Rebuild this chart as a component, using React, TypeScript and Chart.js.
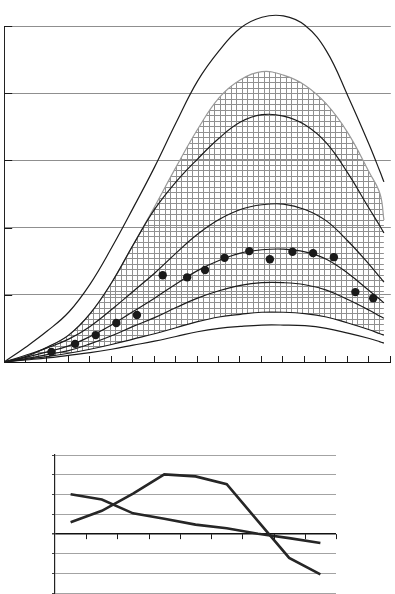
import React, { useEffect, useRef } from "react";
import { Chart, registerables } from "chart.js";

Chart.register(...registerables);

// ---------- top chart data ----------
const growthX = [0, 1, 2, 3, 4, 5, 6, 7, 8, 9, 10, 11, 12, 13, 14, 15, 16, 17, 17.5, 17.68];
const curveTop = [0, 0.22, 0.46, 0.74, 1.16, 1.7, 2.29, 2.9, 3.56, 4.18, 4.63, 4.97, 5.13, 5.15, 5.01, 4.63, 3.96, 3.23, 2.83, 2.68];
const bandUpper = [0, 0.08, 0.22, 0.4, 0.72, 1.18, 1.74, 2.31, 2.9, 3.46, 3.93, 4.2, 4.32, 4.27, 4.12, 3.84, 3.41, 2.82, 2.5, 2.11];
const curve2 = [0, 0.08, 0.22, 0.4, 0.72, 1.18, 1.74, 2.27, 2.68, 3.02, 3.33, 3.57, 3.68, 3.66, 3.53, 3.26, 2.81, 2.28, 2.02, 1.92];
const curve3 = [0, 0.1, 0.21, 0.34, 0.53, 0.78, 1.05, 1.32, 1.62, 1.9, 2.12, 2.27, 2.34, 2.35, 2.27, 2.1, 1.8, 1.45, 1.26, 1.19];
const curve4 = [0, 0.07, 0.15, 0.24, 0.38, 0.55, 0.75, 0.95, 1.16, 1.36, 1.51, 1.62, 1.67, 1.68, 1.64, 1.53, 1.32, 1.06, 0.93, 0.88];
const curve5 = [0, 0.05, 0.11, 0.17, 0.27, 0.39, 0.53, 0.66, 0.81, 0.95, 1.06, 1.14, 1.18, 1.18, 1.15, 1.07, 0.93, 0.77, 0.68, 0.65];
const curve6 = [0, 0.04, 0.08, 0.13, 0.19, 0.26, 0.34, 0.42, 0.51, 0.6, 0.67, 0.71, 0.74, 0.74, 0.72, 0.67, 0.58, 0.48, 0.42, 0.4];
const curve7 = [0, 0.03, 0.06, 0.1, 0.14, 0.19, 0.25, 0.31, 0.38, 0.45, 0.5, 0.53, 0.55, 0.55, 0.54, 0.5, 0.43, 0.35, 0.3, 0.28];
const dotsX = [2.2, 3.3, 4.26, 5.22, 6.18, 7.38, 8.52, 9.35, 10.26, 11.41, 12.37, 13.42, 14.38, 15.35, 16.35, 17.18];
const dotsY = [0.15, 0.27, 0.4, 0.58, 0.7, 1.29, 1.26, 1.37, 1.55, 1.65, 1.53, 1.64, 1.62, 1.56, 1.04, 0.95];
const topXTicks = [1, 2, 3, 4, 5, 6, 7, 8, 9, 10, 11, 12, 13, 14, 15, 16, 17, 18];
const topYTicks = [1, 2, 3, 4, 5];

// ---------- bottom chart data ----------
const bottomX = [0.5, 1.5, 2.5, 3.5, 4.5, 5.5, 6.5, 7.5, 8.5];
const seriesA = [0.6, 1.18, 2.05, 3.02, 2.92, 2.52, 0.66, -1.2, -2.03];
const seriesB = [2.02, 1.75, 1.05, 0.78, 0.48, 0.3, 0.02, -0.2, -0.45];
const bottomXTicks = [1, 2, 3, 4, 5, 6, 7, 8, 9];

const pts = (xs: number[], ys: number[]) => ys.map((y, i) => ({ x: xs[i], y }));

const topTicksPlugin = {
  id: "topTicks",
  afterDraw(chart: any) {
    const { ctx, chartArea, scales } = chart;
    ctx.save();
    ctx.strokeStyle = "#1a1a1a";
    ctx.lineWidth = 1;
    ctx.beginPath();
    topXTicks.forEach((v) => {
      const px = Math.round(scales.x.getPixelForValue(v)) - 0.5;
      ctx.moveTo(px, chartArea.bottom);
      ctx.lineTo(px, chartArea.bottom - 6);
    });
    topYTicks.forEach((v) => {
      const py = Math.round(scales.y.getPixelForValue(v)) + 0.5;
      ctx.moveTo(chartArea.left, py);
      ctx.lineTo(chartArea.left + 8, py);
    });
    ctx.stroke();
    ctx.restore();
  },
};

const bottomTicksPlugin = {
  id: "bottomTicks",
  afterDraw(chart: any) {
    const { ctx, scales } = chart;
    const y0 = scales.y.getPixelForValue(0);
    ctx.save();
    ctx.strokeStyle = "#1a1a1a";
    ctx.lineWidth = 1;
    ctx.beginPath();
    bottomXTicks.forEach((v) => {
      const px = Math.round(scales.x.getPixelForValue(v)) + 0.5;
      ctx.moveTo(px, y0);
      ctx.lineTo(px, y0 + 5);
    });
    ctx.stroke();
    ctx.restore();
  },
};

function makeHatch(): CanvasPattern | string {
  const c = document.createElement("canvas");
  c.width = 11;
  c.height = 11;
  const g = c.getContext("2d");
  if (!g) return "#cccccc";
  g.strokeStyle = "#909090";
  g.lineWidth = 1;
  g.beginPath();
  [0.5, 5.5].forEach((p) => {
    g.moveTo(p, 0);
    g.lineTo(p, 11);
    g.moveTo(0, p);
    g.lineTo(11, p);
  });
  g.stroke();
  const pat = g.createPattern(c, "repeat");
  return pat || "#cccccc";
}

export default function App() {
  const topRef = useRef<HTMLCanvasElement | null>(null);
  const botRef = useRef<HTMLCanvasElement | null>(null);

  useEffect(() => {
    if (!topRef.current || !botRef.current) return;
    const black = "#1c1c1c";
    const lineDs = (data: number[]) => ({
      type: "line" as const,
      data: pts(growthX, data),
      borderColor: black,
      borderWidth: 1.2,
      pointRadius: 0,
      fill: false,
      tension: 0.4,
      clip: false as any,
    });
    const hatch = makeHatch();
    const topChart = new Chart(topRef.current, {
      type: "line",
      data: {
        datasets: [
          {
            type: "line",
            data: pts(dotsX, dotsY),
            showLine: false,
            pointRadius: 4.2,
            pointBackgroundColor: "#1a1a1a",
            pointBorderWidth: 0,
            clip: false as any,
          },
          lineDs(curveTop),
          lineDs(curve2),
          lineDs(curve3),
          lineDs(curve4),
          lineDs(curve5),
          lineDs(curve6),
          lineDs(curve7),
          {
            type: "line",
            data: pts(growthX, bandUpper),
            borderColor: "#9a9a9a",
            borderWidth: 1.2,
            pointRadius: 0,
            tension: 0.4,
            fill: { target: 6 },
            backgroundColor: hatch as any,
            clip: false as any,
          },
        ],
      } as any,
      options: {
        responsive: false,
        animation: false,
        devicePixelRatio: 1,
        layout: { padding: { left: 2, right: 0, top: 26, bottom: 38 } },
        plugins: { legend: { display: false }, tooltip: { enabled: false } },
        scales: {
          x: {
            type: "linear",
            min: 0,
            max: 18,
            ticks: { display: false, stepSize: 1 },
            grid: { display: true, drawOnChartArea: false, drawTicks: false },
            border: { display: true, color: "#111111", width: 1 },
          },
          y: {
            type: "linear",
            min: 0,
            max: 5,
            ticks: { display: false, stepSize: 1 },
            grid: {
              color: (c: any) => (c.tick && c.tick.value === 0 ? "rgba(0,0,0,0)" : "#8f8f8f"),
              lineWidth: 1,
              drawTicks: false,
            },
            border: { display: true, color: "#222222", width: 1 },
          },
        },
      } as any,
      plugins: [topTicksPlugin],
    });

    const lineB = (data: number[]) => ({
      data: pts(bottomX, data),
      borderColor: "#262626",
      borderWidth: 2.6,
      pointRadius: 0,
      tension: 0,
      fill: false,
    });
    const botChart = new Chart(botRef.current, {
      type: "line",
      data: { datasets: [lineB(seriesA), lineB(seriesB)] },
      options: {
        responsive: false,
        animation: false,
        devicePixelRatio: 1,
        layout: { padding: { left: 52, right: 59, top: 55, bottom: 0.5 } },
        plugins: { legend: { display: false }, tooltip: { enabled: false } },
        scales: {
          x: { type: "linear", min: 0, max: 9, display: false },
          y: {
            type: "linear",
            min: -3,
            max: 4,
            ticks: { display: false, stepSize: 1 },
            grid: {
              color: (c: any) => (c.tick && c.tick.value === 0 ? "#111111" : "#a3a3a3"),
              lineWidth: (c: any) => (c.tick && c.tick.value === 0 ? 1.4 : 1),
              drawTicks: true,
              tickLength: 3,
              tickColor: "#444444",
            },
            border: { display: true, color: "#222222", width: 1.2 },
          },
        },
      } as any,
      plugins: [bottomTicksPlugin],
    });

    return () => {
      topChart.destroy();
      botChart.destroy();
    };
  }, []);

  return (
    <div
      style={{
        position: "absolute",
        left: 0,
        top: 0,
        width: 395,
        height: 594,
        overflow: "hidden",
        background: "#ffffff",
      }}
    >
      <canvas ref={topRef} width={395} height={400} style={{ position: "absolute", left: 0, top: 0, width: 395, height: 400 }} />
      <canvas ref={botRef} width={395} height={194} style={{ position: "absolute", left: 0, top: 400, width: 395, height: 194 }} />
    </div>
  );
}
